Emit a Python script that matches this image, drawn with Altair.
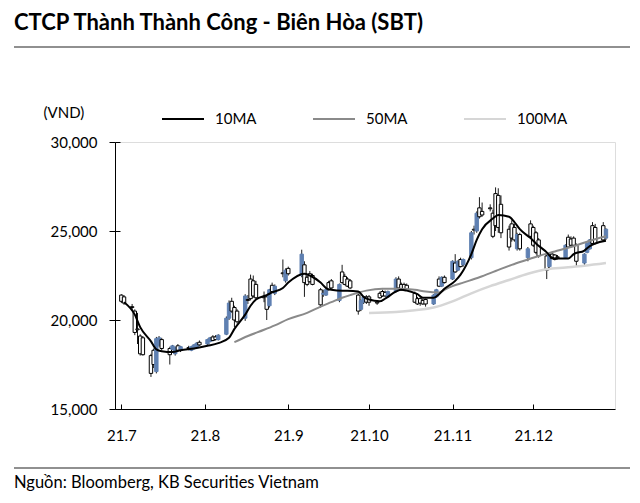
import altair as alt
import pandas as pd

# ---------------- data ----------------
dates = [
    "2021-07-01","2021-07-02","2021-07-05","2021-07-06","2021-07-07","2021-07-08","2021-07-09",
    "2021-07-12","2021-07-13","2021-07-14","2021-07-15","2021-07-16",
    "2021-07-19","2021-07-20","2021-07-21","2021-07-22","2021-07-23",
    "2021-07-26","2021-07-27","2021-07-28","2021-07-29","2021-07-30",
    "2021-08-02","2021-08-03","2021-08-04","2021-08-05","2021-08-06",
    "2021-08-09","2021-08-10","2021-08-11","2021-08-12","2021-08-13",
    "2021-08-16","2021-08-17","2021-08-18","2021-08-19","2021-08-20",
    "2021-08-23","2021-08-24","2021-08-25","2021-08-26","2021-08-27",
    "2021-08-30","2021-08-31","2021-09-01",
    "2021-09-06","2021-09-07","2021-09-08","2021-09-09","2021-09-10",
    "2021-09-13","2021-09-14","2021-09-15","2021-09-16","2021-09-17",
    "2021-09-20","2021-09-21","2021-09-22","2021-09-23","2021-09-24",
    "2021-09-27","2021-09-28","2021-09-29","2021-09-30","2021-10-01",
    "2021-10-04","2021-10-05","2021-10-06","2021-10-07","2021-10-08",
    "2021-10-11","2021-10-12","2021-10-13","2021-10-14","2021-10-15",
    "2021-10-18","2021-10-19","2021-10-20","2021-10-21","2021-10-22",
    "2021-10-25","2021-10-26","2021-10-27","2021-10-28","2021-10-29",
    "2021-11-01","2021-11-02","2021-11-03","2021-11-04","2021-11-05",
    "2021-11-08","2021-11-09","2021-11-10","2021-11-11","2021-11-12",
    "2021-11-15","2021-11-16","2021-11-17","2021-11-18","2021-11-19",
    "2021-11-22","2021-11-23","2021-11-24","2021-11-25","2021-11-26",
    "2021-11-29","2021-11-30","2021-12-01","2021-12-02","2021-12-03",
    "2021-12-06","2021-12-07","2021-12-08","2021-12-09","2021-12-10",
    "2021-12-13","2021-12-14","2021-12-15","2021-12-16","2021-12-17",
    "2021-12-20","2021-12-21","2021-12-22","2021-12-23","2021-12-24",
    "2021-12-27","2021-12-28",
]
opens = [
    21400,21300,20750,20500,19500,19100,19000,
    18000,18300,17100,18600,18900,
    18400,18350,18100,18550,18300,
    18450,18300,18400,18500,18750,
    18650,18800,19050,19050,18900,
    19200,20100,21050,20700,20500,
    20100,21150,22300,22200,22000,
    21300,21300,20800,21950,21500,
    22650,22200,22900,
    22500,23100,22400,22600,22500,
    21700,21450,21400,22100,22200,
    21100,22700,22450,22300,22200,
    21400,20600,21000,21300,21300,
    21000,21500,21600,21550,21300,
    21600,22300,22000,22000,21950,
    21500,21200,21200,21100,21150,
    20900,21300,22300,21900,22400,
    22300,23200,22800,23400,23100,
    23500,25100,25000,26300,26100,
    26300,26000,27100,27000,26500,
    25100,25400,25200,24000,24800,
    23500,25400,25200,24900,24500,
    23600,23000,23700,23650,23550,
    23500,24650,24550,24600,24200,
    23200,23800,24000,25300,25200,
    25300,24600,
]
highs = [
    21450,21400,20900,20600,20400,19200,19100,
    18100,18400,19050,19100,19000,
    18500,18600,18500,18650,18550,
    18550,18550,18650,18750,18850,
    18950,19050,19150,19150,19200,
    20200,21100,21250,20800,20600,
    21450,21400,22550,22500,22200,
    21600,21400,21750,22100,22000,
    23400,22900,23000,
    23950,23300,22500,22750,22600,
    21800,21700,21800,22200,22300,
    22050,23100,22600,22400,22300,
    21500,21150,21350,21400,21400,
    21100,21600,21700,21650,21650,
    22400,22450,22100,22100,22050,
    21600,21300,21300,21200,21200,
    21450,21750,22450,22450,22500,
    23350,23700,23350,23500,23450,
    25000,25300,26100,26900,26600,
    26500,26200,27450,27400,27000,
    25300,25600,25400,24900,24900,
    24100,25600,25300,25000,24600,
    23700,23750,23800,23700,23650,
    24250,24800,24700,24700,24300,
    23750,24350,24550,25500,25400,
    25500,25150,
]
lows = [
    20950,20850,20550,19150,18650,18000,18000,
    16800,17300,17000,18500,18300,
    17500,18300,18000,18250,18200,
    18300,18250,18350,18450,18550,
    18600,18750,18800,18850,18850,
    19150,20000,20400,19600,19800,
    19950,20900,21100,21250,21150,
    21000,20000,20700,21550,21400,
    22400,22100,22500,
    22400,21300,21900,22100,21950,
    20700,21300,21350,21650,21750,
    21000,22050,21950,21850,21750,
    20300,20500,20900,20900,20800,
    20850,21200,21300,21300,21250,
    21550,21750,21650,21700,21650,
    20950,20850,20800,20850,20750,
    20850,21250,21850,21850,22050,
    22250,22650,22750,22950,23000,
    23400,24800,24900,25700,25800,
    26100,24600,25000,24900,24600,
    23900,24400,24400,23900,23900,
    23300,24600,24100,23700,23500,
    22300,22900,23400,23350,23400,
    23450,24050,24150,24150,23000,
    23100,23750,23950,24250,24250,
    24400,24500,
]
closes = [
    21050,20950,20700,19300,19450,18100,18050,
    17000,17500,18950,19000,18400,
    18050,18550,18450,18300,18500,
    18400,18500,18600,18700,18600,
    18900,19000,18850,18900,19150,
    20100,20950,20500,20000,19900,
    21350,21100,21200,21350,21250,
    21250,20600,21700,21600,21900,
    22600,22800,22600,
    23700,22100,22000,22150,22000,
    20850,21500,21700,21700,21800,
    22000,22100,22000,21900,21800,
    20500,21100,21300,21000,21000,
    20950,21250,21350,21350,21600,
    22300,21800,21700,21750,21700,
    21000,20900,20950,20900,20900,
    21400,21700,21900,22400,22100,
    23300,22700,23300,23000,23400,
    24900,25050,26000,25800,25900,
    26250,24700,25300,25200,24900,
    24100,24600,24500,24800,24000,
    24000,24700,24200,23800,23600,
    22800,23700,23450,23400,23500,
    24200,24100,24200,24200,23300,
    23700,24300,24500,24300,24300,
    24500,25100,
]

ma10_dates = ["2021-07-02","2021-07-06","2021-07-08","2021-07-12","2021-07-14","2021-07-16",
              "2021-07-20","2021-07-23","2021-07-28","2021-08-02","2021-08-06","2021-08-10",
              "2021-08-12","2021-08-16","2021-08-18","2021-08-20","2021-08-24","2021-08-26",
              "2021-08-30","2021-09-01","2021-09-07","2021-09-09","2021-09-13","2021-09-15",
              "2021-09-17","2021-09-21","2021-09-23","2021-09-27","2021-09-29","2021-10-01",
              "2021-10-05","2021-10-07","2021-10-11","2021-10-13","2021-10-15","2021-10-19",
              "2021-10-21","2021-10-25","2021-10-27","2021-10-29","2021-11-02","2021-11-04",
              "2021-11-08","2021-11-10","2021-11-12","2021-11-16","2021-11-18","2021-11-22",
              "2021-11-24","2021-11-26","2021-11-30","2021-12-02","2021-12-06","2021-12-08",
              "2021-12-10","2021-12-14","2021-12-16","2021-12-20","2021-12-22","2021-12-24",
              "2021-12-28"]
ma10_vals = [21000,20300,19600,18800,18350,18250,
             18200,18300,18400,18550,18700,19000,
             19500,20300,20800,21150,21400,21550,
             21800,22100,22600,22500,22100,21800,
             21700,21650,21650,21600,21300,21150,
             21050,21200,21600,21700,21650,21450,
             21250,21250,21450,21750,22200,22550,
             23700,24500,25100,25700,25900,25800,
             25500,25100,24600,24300,23800,23500,
             23450,23450,23700,23900,24150,24300,
             24450]

ma50_dates = ["2021-08-12","2021-08-17","2021-08-23","2021-08-27","2021-09-01","2021-09-08",
              "2021-09-13","2021-09-17","2021-09-21","2021-09-24","2021-09-30","2021-10-06",
              "2021-10-12","2021-10-18","2021-10-22","2021-10-27","2021-10-29","2021-11-01",
              "2021-11-05","2021-11-11","2021-11-17","2021-11-23","2021-11-29","2021-12-03",
              "2021-12-09","2021-12-15","2021-12-21","2021-12-28"]
ma50_vals = [18750,19100,19450,19700,20050,20400,
             20750,21000,21250,21400,21650,21750,
             21750,21700,21600,21550,21700,21900,
             22100,22400,22750,23100,23400,23600,
             23850,24100,24400,24700]

ma100_dates = ["2021-10-01","2021-10-11","2021-10-18","2021-10-25","2021-11-01","2021-11-08",
               "2021-11-15","2021-11-22","2021-11-29","2021-12-06","2021-12-13","2021-12-20",
               "2021-12-28"]
ma100_vals = [20400,20450,20550,20700,21050,21500,
              21900,22250,22600,22850,22950,23050,
              23200]

month_ticks = [7, 8, 9, 10, 11, 12]
price_ticks = [15000, 20000, 25000, 30000]

# ---------------- build tables ----------------
candles = pd.DataFrame({"date": dates, "open": opens, "high": highs,
                        "low": lows, "close": closes})
candles["dir"] = ["up" if c > o else "down" for o, c in zip(opens, closes)]

ma = pd.concat([
    pd.DataFrame({"date": ma10_dates, "value": ma10_vals, "series": "10MA"}),
    pd.DataFrame({"date": ma50_dates, "value": ma50_vals, "series": "50MA"}),
    pd.DataFrame({"date": ma100_dates, "value": ma100_vals, "series": "100MA"}),
])

BLUE = "#5f80b2"
FONT = "Lato"

xscale = alt.Scale(type="utc", domain=[alt.DateTime(year=2021, month=6, date=30, hours=12, utc=True),
                                       alt.DateTime(year=2021, month=12, date=29, hours=12, utc=True)])
yscale = alt.Scale(domain=[15000, 30000], nice=False, zero=False)
tick_vals = [alt.DateTime(year=2021, month=m, date=1, utc=True) for m in month_ticks]

x_main_axis = alt.Axis(values=tick_vals, labelExpr="utcFormat(datum.value, '%y') + '.' + (utcmonth(datum.value) + 1)",
                       ticks=False, tickSize=0, labelPadding=19, domainColor="black", domainWidth=1,
                       labelFontSize=15, labelFont=FONT, labelColor="black", grid=False, title=None)
y_main_axis = alt.Axis(values=price_ticks, labelExpr="format(datum.value, ',')", tickSize=6, tickColor="black",
                       labelPadding=12, domainColor="black", domainWidth=1, grid=False,
                       labelFontSize=15, labelFont=FONT, labelColor="black",
                       title="(VND)", titleAngle=0, titleX=-72, titleY=-30, titleAlign="left",
                       titleBaseline="middle", titleFontSize=15, titleFont=FONT, titleFontWeight="normal",
                       titleColor="black")

wick = alt.Chart(candles).mark_rule(color="black", strokeWidth=0.9).encode(
    x=alt.X("date:T", scale=xscale, axis=x_main_axis),
    y=alt.Y("low:Q", scale=yscale, axis=y_main_axis),
    y2="high:Q",
)
body = alt.Chart(candles).mark_bar(size=3.4, strokeWidth=1).encode(
    x=alt.X("date:T"),
    y=alt.Y("open:Q"),
    y2="close:Q",
    fill=alt.Fill("dir:N", scale=alt.Scale(domain=["up", "down"], range=[BLUE, "white"]), legend=None),
    stroke=alt.Stroke("dir:N", scale=alt.Scale(domain=["up", "down"], range=[BLUE, "black"]), legend=None),
)
price = alt.layer(wick, body)

color_scale = alt.Scale(domain=["10MA", "50MA", "100MA"], range=["black", "#8a8a8a", "#d6d6d6"])
legend = alt.Legend(title=None, orient="none", legendX=46, legendY=-45, direction="horizontal",
                    symbolType="stroke", symbolSize=1764, symbolStrokeWidth=2, labelFontSize=15,
                    labelFont=FONT, labelColor="black", labelOffset=10, columnPadding=43, gridAlign="all")

x_tick_axis = alt.Axis(values=tick_vals, offset=-5, tickSize=5, tickColor="black", domain=False,
                       labels=False, grid=False, title=None, orient="bottom")
y_tick_axis = alt.Axis(values=price_ticks, offset=-5, tickSize=5, tickColor="black",
                       domain=False, labels=False, grid=False, title=None, orient="left")


def ma_layer(name, width, with_axes=False):
    enc = dict(
        x=alt.X("date:T", axis=x_tick_axis) if with_axes else alt.X("date:T"),
        y=alt.Y("value:Q", axis=y_tick_axis) if with_axes else alt.Y("value:Q"),
        color=alt.Color("series:N", scale=color_scale, legend=legend),
    )
    return alt.Chart(ma[ma.series == name]).mark_line(strokeWidth=width, interpolate="monotone").encode(**enc)


lines = alt.layer(ma_layer("100MA", 2.5, True), ma_layer("50MA", 2), ma_layer("10MA", 2))

one = pd.DataFrame({"k": [0]})
title_txt = alt.Chart(one).mark_text(align="left", baseline="alphabetic", fontSize=22, fontWeight="bold",
                                     font=FONT, color="black").encode(
    x=alt.value(-101), y=alt.value(-112), text=alt.value("CTCP Thành Thành Công - Biên Hòa (SBT)"))
title_line = alt.Chart(one).mark_rule(color="#222222", strokeWidth=1.2).encode(
    x=alt.value(-101), x2=alt.value(515), y=alt.value(-95))
src_line = alt.Chart(one).mark_rule(color="#222222", strokeWidth=1.2).encode(
    x=alt.value(-101), x2=alt.value(515), y=alt.value(326))
src_txt = alt.Chart(one).mark_text(align="left", baseline="middle", fontSize=16.5, font=FONT,
                                   color="black").encode(
    x=alt.value(-101), y=alt.value(341), text=alt.value("Nguồn: Bloomberg, KB Securities Vietnam"))

chart = alt.layer(price, lines, title_txt, title_line, src_line, src_txt).resolve_axis(
    x="independent", y="independent"
).properties(
    width=500, height=267,
    autosize=alt.AutoSizeParams(type="none"),
    padding={"left": 107, "top": 134, "right": 17, "bottom": 86},
).configure_view(strokeWidth=0).configure(background="white")

chart.save("out.html", embed_options={"renderer": "svg", "actions": False})
